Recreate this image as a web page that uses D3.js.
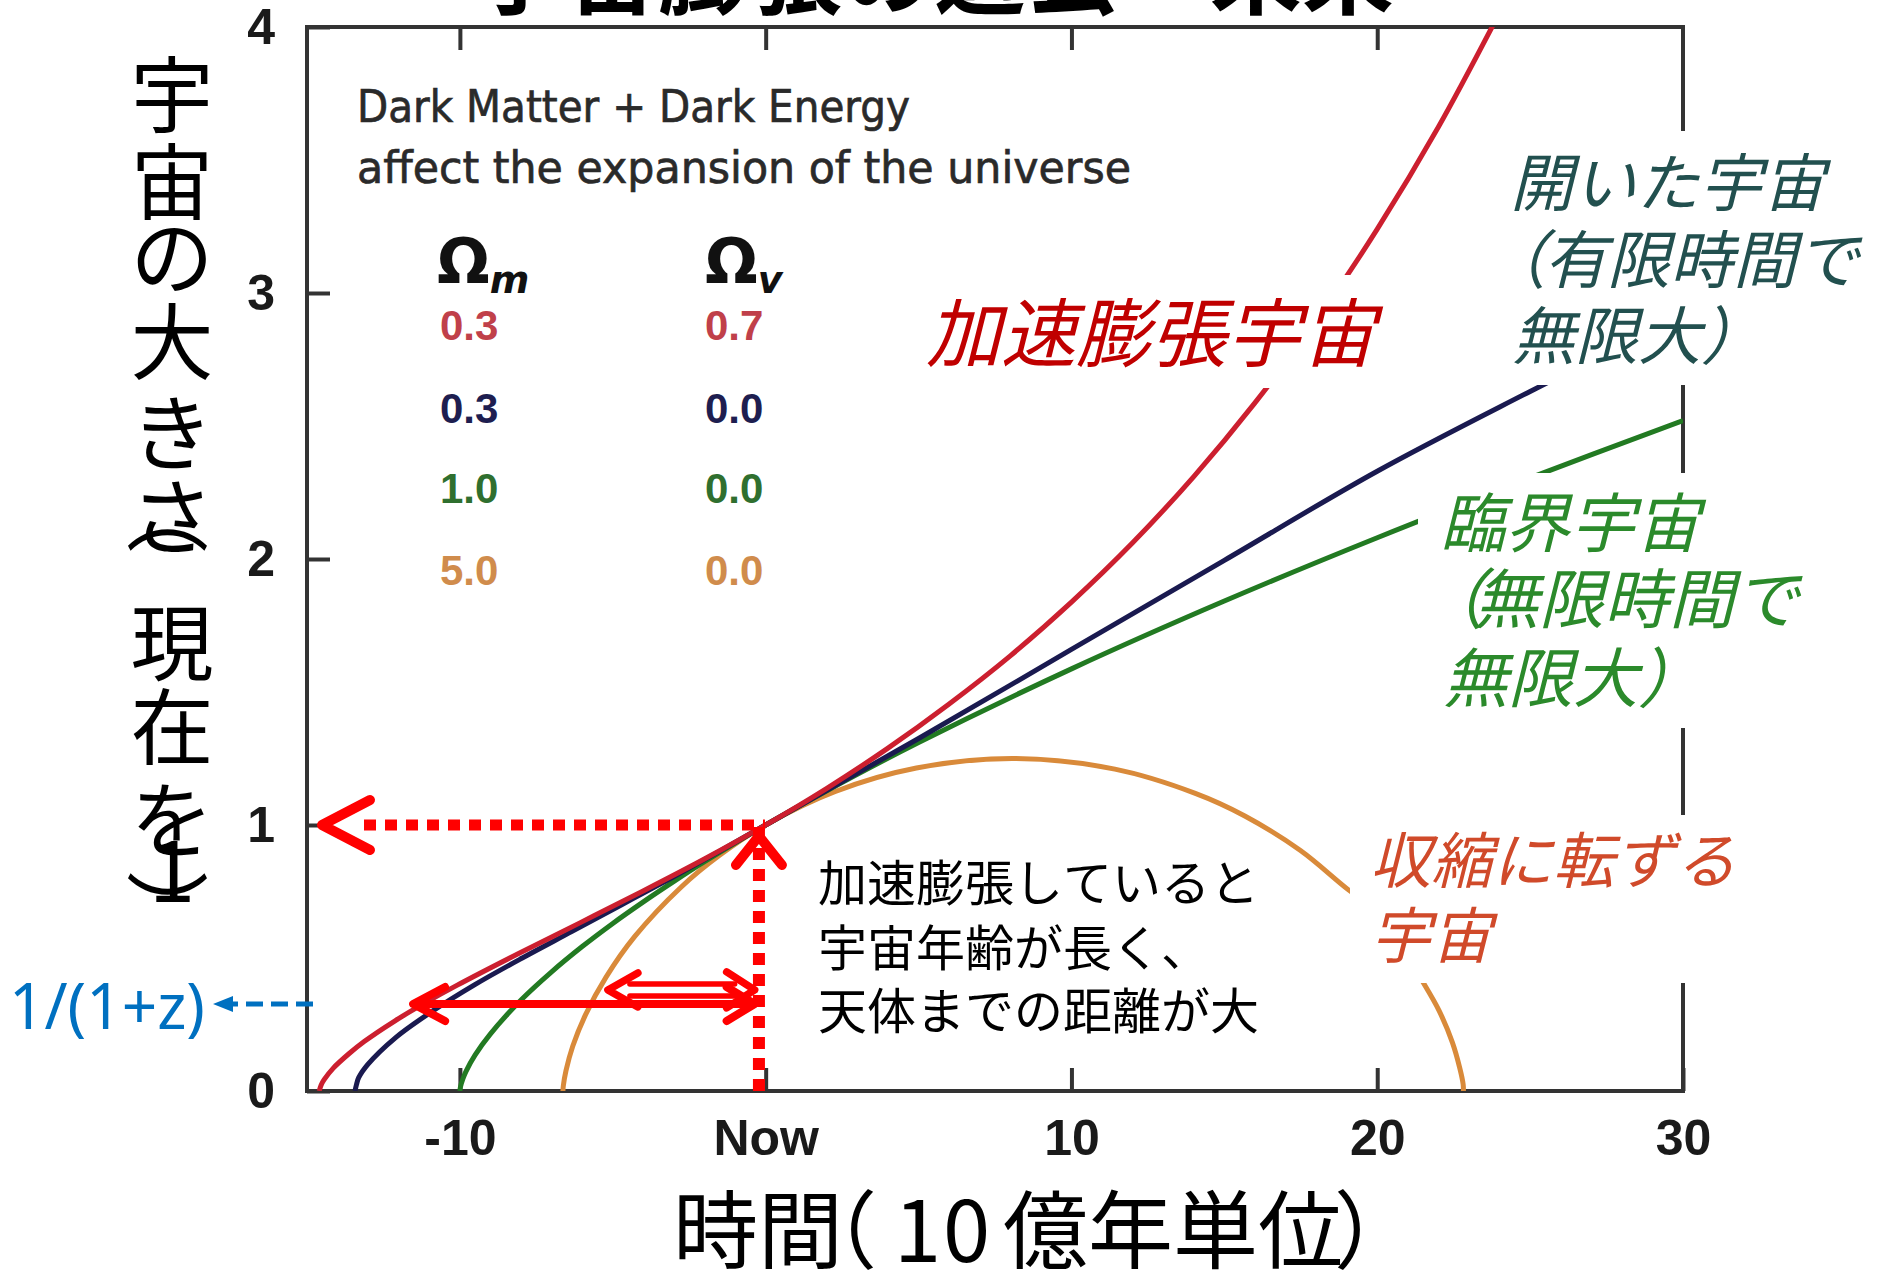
<!DOCTYPE html>
<html><head><meta charset="utf-8">
<script src="https://cdn.jsdelivr.net/npm/d3@7"></script>
<style>
html,body{margin:0;padding:0;background:#fff;}
svg{display:block;}
</style></head><body>
<svg id="c" width="1886" height="1272"></svg>
<script>
// ---------------- DATA ----------------
const titleText = "宇宙膨張の過去・未来";
const xTicks = [-10, 0, 10, 20, 30];
const xTickLabels = ["-10", "Now", "10", "20", "30"];
const yTicks = [0, 1, 2, 3, 4];
const yTickLabels = ["0", "1", "2", "3", "4"];

const legendTitle = ["Dark Matter + Dark Energy", "affect the expansion of the universe"];
const omegaM = ["0.3", "0.3", "1.0", "5.0"];
const omegaV = ["0.7", "0.0", "0.0", "0.0"];

// [time (Gyr from now), size relative to now]
const redCurve = [[-14.6,0],[-14.54,0.022],[-14.44,0.0425],[-14.14,0.086],[-13.63,0.140],[-13.13,0.186],
  [-12.12,0.264],[-11.11,0.333],[-10.10,0.397],[-8.08,0.517],[-6.06,0.633],[-4.04,0.750],[-2.02,0.871],
  [0,1],[2,1.138],[4,1.289],[6,1.455],[8,1.636],[10,1.838],[12,2.061],[14,2.310],[16,2.587],[18,2.895],
  [20,3.240],[22,3.624],[24,4.054]];
const blueCurve = [[-13.43,0],[-13.38,0.025],[-13.31,0.05],[-13.01,0.1],[-12.11,0.2],[-10.9,0.3],[-9.51,0.4],
  [-7.96,0.5],[-6.33,0.6],[-4.71,0.7],[-3.10,0.8],[-1.53,0.9],[0,1],[2,1.13],[5,1.325],[10,1.66],
  [15,1.995],[20,2.33],[25,2.63],[30,2.92]];
const greenCurve = [[-10,0],[-9.98,0.016],[-9.9,0.046],[-9.8,0.074],[-9.5,0.136],[-9,0.215],[-8,0.342],
  [-7,0.448],[-6,0.543],[-5,0.630],[-4,0.711],[-3,0.788],[-2,0.862],[-1,0.932],[0,1],[2,1.129],[5,1.310],
  [10,1.587],[15,1.842],[20,2.080],[25,2.305],[30,2.520]];
const orangeCurve = [[-6.63,0],[-6.618,0.019],[-6.53,0.0765],[-6.31,0.168],[-5.89,0.287],[-5.22,0.428],
  [-4.28,0.581],[-2.76,0.767],[-1.52,0.885],[0,1],[2.28,1.126],[4.93,1.214],[8.10,1.25],[11.42,1.210],
  [14.05,1.119],[15.67,1.034],[17.49,0.904],[19.05,0.757],[20.32,0.649],[21.30,0.448],[22.01,0.305],
  [22.46,0.182],[22.70,0.086],[22.81,0.025],[22.82,0]];

// annotation values (data units)
const nowLine = -0.22;      // vertical dotted "now" line
const zLevel = 0.327;       // 1/(1+z) level
const zLevelShort = 0.38;   // short double arrow level
const longArrowFrom = -11.53, shortArrowFrom = -5.16, arrowTo = -0.36;

// ---------------- LAYOUT ----------------
const svg = d3.select("#c");
const CJK = "'Noto Sans CJK JP','Noto Sans CJK SC',sans-serif";
const x = d3.scaleLinear().domain([-15, 30]).range([307, 1683]);
const y = d3.scaleLinear().domain([0, 4]).range([1091, 27]);
const axisColor = "#333";

svg.append("defs").append("clipPath").attr("id", "plotclip").append("rect")
  .attr("x", x(-15)).attr("y", y(4)).attr("width", x(30) - x(-15)).attr("height", y(0) - y(4));

// title (cut off at top edge, as in the original)
svg.append("text").attr("x", 474).attr("y", 7).attr("font-family", CJK).attr("font-size", 92)
  .attr("font-weight", 700).attr("fill", "#000").text(titleText);

// ---------------- AXES ----------------
function styleAxis(g) {
  g.select(".domain").remove();
  g.selectAll(".tick line").attr("stroke", axisColor).attr("stroke-width", 4);
  g.selectAll(".tick text").attr("font-family", "'Liberation Sans', Arial, sans-serif")
    .attr("font-size", 50).attr("font-weight", 700).attr("fill", "#1a1a1a");
}
svg.append("g").attr("transform", `translate(0,${y(0)})`)
  .call(d3.axisBottom(x).tickValues(xTicks).tickFormat((d, i) => xTickLabels[i])
    .tickSizeInner(-23).tickSizeOuter(0).tickPadding(28)).call(styleAxis);
svg.append("g").attr("transform", `translate(0,${y(4)})`)
  .call(d3.axisTop(x).tickValues(xTicks.slice(0, 4)).tickFormat("")
    .tickSizeInner(-23).tickSizeOuter(0)).call(styleAxis);
svg.append("g").attr("transform", `translate(${x(-15)},0)`)
  .call(d3.axisLeft(y).tickValues(yTicks).tickFormat((d, i) => yTickLabels[i])
    .tickSizeInner(-23).tickSizeOuter(0).tickPadding(32)).call(styleAxis);
svg.append("g").attr("transform", `translate(${x(30)},0)`)
  .call(d3.axisRight(y).tickValues([1, 2, 3]).tickFormat("")
    .tickSizeInner(-23).tickSizeOuter(0)).call(styleAxis);
svg.append("rect").attr("x", x(-15)).attr("y", y(4)).attr("width", x(30) - x(-15)).attr("height", y(0) - y(4))
  .attr("fill", "none").attr("stroke", axisColor).attr("stroke-width", 4);

// ---------------- CURVES ----------------
const line = d3.line().x(d => x(d[0])).y(d => y(d[1])).curve(d3.curveCatmullRom.alpha(0.5));
const curves = [
  {data: orangeCurve, color: "#d98a3a"},
  {data: greenCurve, color: "#227a22"},
  {data: blueCurve, color: "#1a1a50"},
  {data: redCurve, color: "#cc1f2f"}
];
const cg = svg.append("g").attr("clip-path", "url(#plotclip)");
cg.selectAll("path").data(curves).join("path")
  .attr("d", d => line(d.data)).attr("fill", "none")
  .attr("stroke", d => d.color).attr("stroke-width", 5).attr("stroke-linejoin", "round");

// ---------------- WHITE LABEL BOXES ----------------
const boxes = [
  [915, 275, 547, 113],   // 加速膨張宇宙
  [1490, 131, 396, 254],  // 開いた宇宙
  [1418, 473, 468, 255],  // 臨界宇宙
  [1350, 815, 395, 168]   // 収縮に転ずる宇宙
];
svg.append("g").selectAll("rect").data(boxes).join("rect")
  .attr("x", d => d[0]).attr("y", d => d[1]).attr("width", d => d[2]).attr("height", d => d[3])
  .attr("fill", "#fff");

// ---------------- LEGEND ----------------
svg.append("text").attr("x", 357).attr("y", 122).attr("font-family", "'DejaVu Sans', sans-serif")
  .attr("font-size", 44).attr("fill", "#2a2a2a").attr("stroke", "#2a2a2a").attr("stroke-width", 0.7)
  .attr("textLength", 553).attr("lengthAdjust", "spacingAndGlyphs").text(legendTitle[0]);
svg.append("text").attr("x", 357).attr("y", 183).attr("font-family", "'DejaVu Sans', sans-serif")
  .attr("font-size", 44).attr("fill", "#2a2a2a").attr("stroke", "#2a2a2a").attr("stroke-width", 0.7)
  .attr("textLength", 774).attr("lengthAdjust", "spacingAndGlyphs").text(legendTitle[1]);
const omegaCols = [{x: 437, sub: "m"}, {x: 705, sub: "v"}];
omegaCols.forEach(c => {
  const t = svg.append("text").attr("x", c.x).attr("y", 283).attr("font-family", "'DejaVu Sans', sans-serif")
    .attr("font-weight", 700).attr("fill", "#111");
  t.append("tspan").attr("font-size", 62).text("Ω");
  t.append("tspan").attr("font-size", 38).attr("font-style", "italic").attr("dy", 10).text(c.sub);
});
const legendColors = ["#c0404a", "#1e1e50", "#2f6f2f", "#d08c4c"];
const rowY = [340, 423, 503, 585];
omegaM.forEach((v, i) => {
  svg.append("text").attr("x", 440).attr("y", rowY[i]).attr("font-family", "'Liberation Sans', Arial, sans-serif")
    .attr("font-size", 42).attr("font-weight", 700).attr("fill", legendColors[i]).text(v);
  svg.append("text").attr("x", 705).attr("y", rowY[i]).attr("font-family", "'Liberation Sans', Arial, sans-serif")
    .attr("font-size", 42).attr("font-weight", 700).attr("fill", legendColors[i]).text(omegaV[i]);
});

// ---------------- RED ANNOTATION ARROWS ----------------
const RED = "#ff0000";
const ann = svg.append("g").attr("fill", "none").attr("stroke", RED)
  .attr("stroke-linecap", "round").attr("stroke-linejoin", "round");
// horizontal dotted at size = 1
ann.append("line").attr("x1", 364).attr("x2", x(nowLine) + 6).attr("y1", y(1)).attr("y2", y(1))
  .attr("stroke-width", 11).attr("stroke-dasharray", "12,9").attr("stroke-linecap", "butt");
ann.append("path").attr("d", `M${x(-15) + 63},${y(1) - 25} L${x(-15) + 15},${y(1)} L${x(-15) + 63},${y(1) + 25}`)
  .attr("stroke-width", 10);
// vertical dotted at now
ann.append("line").attr("x1", x(nowLine)).attr("x2", x(nowLine)).attr("y1", y(0)).attr("y2", y(1) - 5)
  .attr("stroke-width", 12).attr("stroke-dasharray", "12,9").attr("stroke-linecap", "butt");
ann.append("path").attr("d", `M${x(nowLine) - 23},${y(1) + 40} L${x(nowLine)},${y(1) + 11} L${x(nowLine) + 23},${y(1) + 40}`)
  .attr("stroke-width", 10);
// long double arrow at 1/(1+z)
const yl = y(zLevel), xl0 = x(longArrowFrom), xl1 = x(arrowTo);
ann.append("line").attr("x1", xl0 + 4).attr("x2", xl1 - 4).attr("y1", yl).attr("y2", yl).attr("stroke-width", 8);
ann.append("path").attr("d", `M${xl0 + 32},${yl - 17} L${xl0},${yl} L${xl0 + 32},${yl + 17}`).attr("stroke-width", 8);
ann.append("path").attr("d", `M${xl1 - 28},${yl - 17} L${xl1},${yl} L${xl1 - 28},${yl + 17}`).attr("stroke-width", 8);
// short hollow double arrow
const ys = y(zLevelShort), xs0 = x(shortArrowFrom), xs1 = x(arrowTo);
ann.append("line").attr("x1", xs0 + 22).attr("x2", xs1 - 20).attr("y1", ys - 6).attr("y2", ys - 6).attr("stroke-width", 5.5);
ann.append("line").attr("x1", xs0 + 22).attr("x2", xs1 - 20).attr("y1", ys + 6).attr("y2", ys + 6).attr("stroke-width", 5.5);
ann.append("path").attr("d", `M${xs0 + 30},${ys - 17} L${xs0},${ys} L${xs0 + 30},${ys + 17}`).attr("stroke-width", 7.5);
ann.append("path").attr("d", `M${xs1 - 28},${ys - 18} L${xs1},${ys} L${xs1 - 28},${ys + 18}`).attr("stroke-width", 7.5);

// blue dashed arrow to 1/(1+z)
const BLUE = "#0070c0";
svg.append("line").attr("x1", x(-15) + 6).attr("x2", 230).attr("y1", yl).attr("y2", yl)
  .attr("stroke", BLUE).attr("stroke-width", 5).attr("stroke-dasharray", "17,8");
svg.append("path").attr("d", `M213,${yl} L233,${yl - 8} L233,${yl + 8} Z`).attr("fill", BLUE);
svg.append("text").attr("x", 9).attr("y", 1029).attr("font-family", "'Noto Sans', sans-serif")
  .attr("font-size", 64).attr("fill", BLUE).attr("textLength", 196).attr("lengthAdjust", "spacingAndGlyphs")
  .text("1/(1+z)");

// ---------------- JAPANESE LABELS (one text element per label, per-glyph positions) ----------------
function jlabel(lines, size, color, italic) {
  const xs = [], ysArr = [];
  let str = "";
  lines.forEach(l => {
    let cur = l.x;
    Array.from(l.s).forEach((ch, k) => {
      if (l.fixed && l.fixed[k] !== undefined) cur = l.fixed[k];
      xs.push(cur); ysArr.push(l.y);
      cur += size;
      str += ch;
    });
  });
  const t = svg.append("text").attr("x", xs.join(" ")).attr("y", ysArr.join(" "))
    .attr("font-family", CJK).attr("font-size", size).attr("fill", color).text(str);
  if (italic) t.attr("font-style", "italic");
  return t;
}
jlabel([{s: "加速膨張宇宙", x: 926, y: 361}], 75, "#c00000", true);
jlabel([{s: "開いた宇宙", x: 1510, y: 206},
        {s: "（有限時間で", x: 1483, y: 283, fixed: {1: 1544}},
        {s: "無限大）", x: 1512, y: 359}], 63, "#22504f", true);
jlabel([{s: "臨界宇宙", x: 1440, y: 547},
        {s: "（無限時間で", x: 1419, y: 623, fixed: {1: 1474}},
        {s: "無限大）", x: 1443, y: 702}], 65, "#2b8a2b", true);
jlabel([{s: "収縮に転ずる", x: 1370, y: 883},
        {s: "宇宙", x: 1370, y: 958}], 61, "#d04a2a", true);
jlabel([{s: "加速膨張していると", x: 818, y: 901},
        {s: "宇宙年齢が長く、", x: 818, y: 966},
        {s: "天体までの距離が大", x: 818, y: 1029}], 49, "#000", false);

// x axis title (per-glyph x positions)
svg.append("text").attr("x", "673 758 792 894 943 1003 1088 1173 1258 1334").attr("y", 1262)
  .attr("font-family", CJK).attr("font-size", 85).attr("fill", "#000").text("時間（10億年単位）");

// y axis title (vertical, per-glyph positions)
const yTitleChars = [["宇", 90], ["宙", 177], ["の", 252], ["大", 337], ["き", 428], ["さ", 512],
  ["現", 638], ["在", 722], ["を", 815], ["1", 866]];
const ytg = svg.append("g").attr("font-family", CJK).attr("font-size", 83).attr("fill", "#000")
  .attr("text-anchor", "middle").attr("dominant-baseline", "central");
ytg.append("text")
  .attr("x", yTitleChars.map(() => 172).join(" "))
  .attr("y", yTitleChars.map(c => c[1]).join(" "))
  .text(yTitleChars.map(c => c[0]).join(""));
ytg.append("text").attr("transform", "translate(172,513) rotate(90)").text("（");
ytg.append("text").attr("transform", "translate(172,911) rotate(90)").text("）");
</script>
</body></html>
